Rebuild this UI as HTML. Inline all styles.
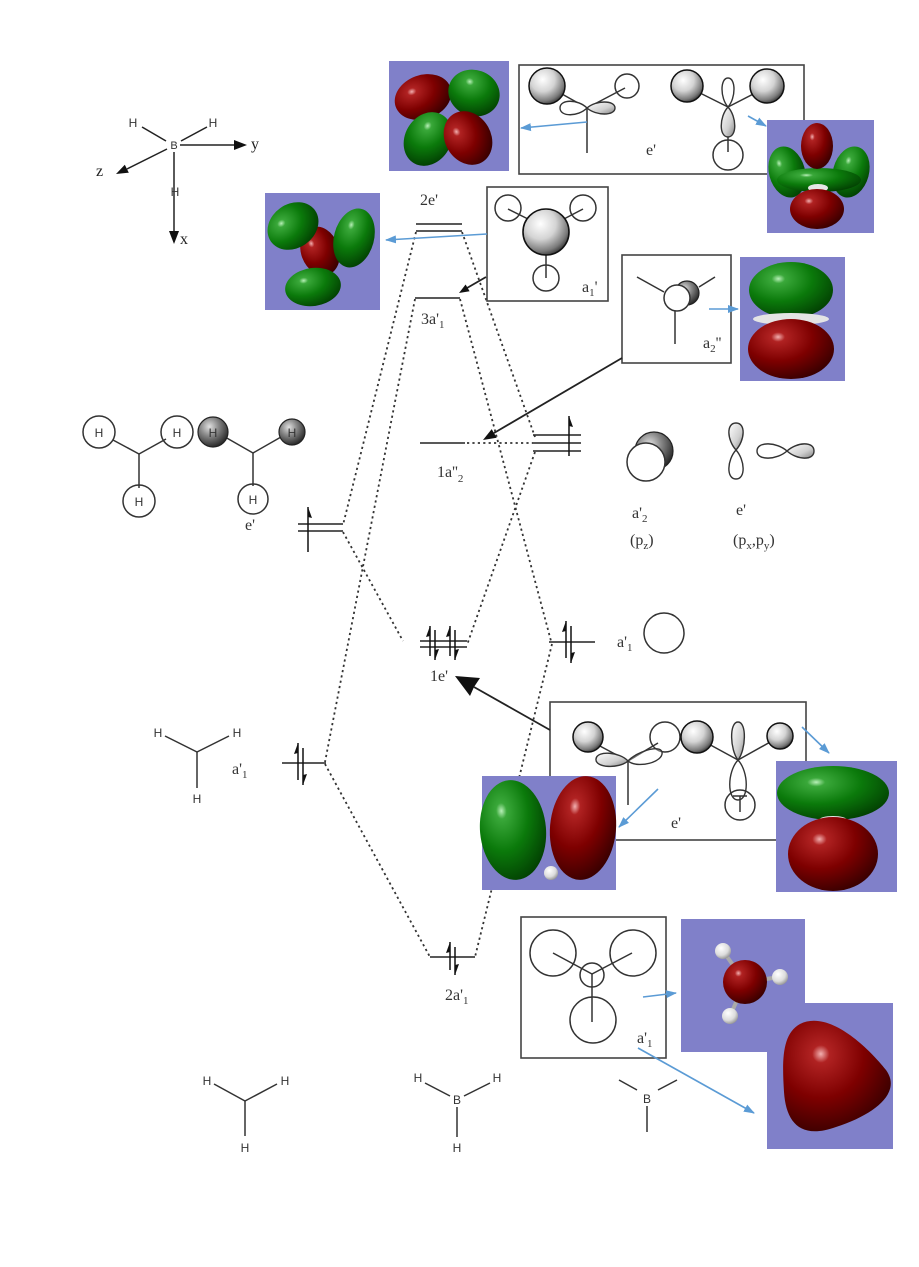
<!DOCTYPE html>
<html><head><meta charset="utf-8">
<style>html,body{margin:0;padding:0;background:#fff}svg{display:block}</style>
</head>
<body>
<svg width="919" height="1267" viewBox="0 0 919 1267" xmlns="http://www.w3.org/2000/svg">
<defs>
  <radialGradient id="gg" cx="0.35" cy="0.3" r="0.8">
    <stop offset="0" stop-color="#b8f0b8"/>
    <stop offset="0.1" stop-color="#3aa83a"/>
    <stop offset="0.5" stop-color="#0b7a0b"/>
    <stop offset="1" stop-color="#013801"/>
  </radialGradient>
  <radialGradient id="rg" cx="0.35" cy="0.3" r="0.8">
    <stop offset="0" stop-color="#f2b0b0"/>
    <stop offset="0.1" stop-color="#b02222"/>
    <stop offset="0.5" stop-color="#7e0000"/>
    <stop offset="1" stop-color="#2e0000"/>
  </radialGradient>
  <radialGradient id="gs" cx="0.38" cy="0.32" r="0.75">
    <stop offset="0" stop-color="#ffffff"/>
    <stop offset="0.45" stop-color="#d4d4d4"/>
    <stop offset="0.8" stop-color="#7a7a7a"/>
    <stop offset="1" stop-color="#222"/>
  </radialGradient>
  <radialGradient id="gd" cx="0.38" cy="0.32" r="0.75">
    <stop offset="0" stop-color="#e0e0e0"/>
    <stop offset="0.4" stop-color="#8a8a8a"/>
    <stop offset="1" stop-color="#1a1a1a"/>
  </radialGradient>
  <radialGradient id="gw" cx="0.38" cy="0.32" r="0.75">
    <stop offset="0" stop-color="#ffffff"/>
    <stop offset="0.6" stop-color="#dcdcdc"/>
    <stop offset="1" stop-color="#8a8a8a"/>
  </radialGradient>
  <linearGradient id="lob" x1="0" y1="0" x2="1" y2="1">
    <stop offset="0" stop-color="#ffffff"/>
    <stop offset="0.6" stop-color="#d0d0d0"/>
    <stop offset="1" stop-color="#808080"/>
  </linearGradient>
  <marker id="bh" markerWidth="11" markerHeight="10" refX="10" refY="5" orient="auto" markerUnits="userSpaceOnUse">
    <path d="M0,1 L11,5 L0,9 Z" fill="#5b9bd5"/>
  </marker>
</defs>

<!-- ============ Axes ============ -->
<g stroke="#222" stroke-width="1.5" fill="none">
  <line x1="180" y1="145" x2="236" y2="145"/>
  <line x1="167" y1="149" x2="127" y2="169"/>
  <line x1="174" y1="152" x2="174" y2="232"/>
  <line x1="142" y1="127" x2="166" y2="141"/>
  <line x1="181" y1="141" x2="207" y2="127"/>
</g>
<polygon points="247,145 234,140 234,150" fill="#111"/>
<polygon points="116,174 128.8,172.7 124.8,164.7" fill="#111"/>
<polygon points="174,244 169,231 179,231" fill="#111"/>
<g font-family="Liberation Sans, sans-serif" font-size="12" fill="#333" text-anchor="middle">
  <text x="133" y="127">H</text>
  <text x="213" y="127">H</text>
  <text x="174" y="149" font-size="11">B</text>
  <text x="175" y="196">H</text>
</g>
<g font-family="Liberation Serif, serif" font-size="16" fill="#222">
  <text x="251" y="149">y</text>
  <text x="96" y="176">z</text>
  <text x="180" y="244">x</text>
</g>

<!-- ============ Purple panels ============ -->
<g fill="#8080c9">
  <rect x="389" y="61" width="120" height="110"/>
  <rect x="265" y="193" width="115" height="117"/>
  <rect x="767" y="120" width="107" height="113"/>
  <rect x="740" y="257" width="105" height="124"/>
  <rect x="681" y="919" width="124" height="133"/>
  <rect x="767" y="1003" width="126" height="146"/>
</g>

<!-- panel 1 -->
<ellipse cx="423" cy="97" rx="29" ry="22" transform="rotate(-20 423 97)" fill="url(#rg)"/>
<ellipse cx="474" cy="93" rx="26" ry="23" transform="rotate(20 474 93)" fill="url(#gg)"/>
<ellipse cx="444" cy="131" rx="4" ry="12" fill="#e8e8e8"/>
<ellipse cx="428" cy="139" rx="23" ry="28" transform="rotate(30 428 139)" fill="url(#gg)"/>
<ellipse cx="468" cy="138" rx="23" ry="28" transform="rotate(-30 468 138)" fill="url(#rg)"/>

<!-- panel 2 -->
<ellipse cx="320" cy="251" rx="19" ry="25" transform="rotate(-20 320 251)" fill="url(#rg)"/>
<ellipse cx="293" cy="226" rx="27" ry="22" transform="rotate(-35 293 226)" fill="url(#gg)"/>
<ellipse cx="354" cy="238" rx="20" ry="30" transform="rotate(15 354 238)" fill="url(#gg)"/>
<ellipse cx="313" cy="287" rx="28" ry="19" transform="rotate(-8 313 287)" fill="url(#gg)"/>

<!-- panel 3 -->
<ellipse cx="787" cy="172" rx="18" ry="26" transform="rotate(-15 787 172)" fill="url(#gg)"/>
<ellipse cx="851" cy="172" rx="18" ry="26" transform="rotate(15 851 172)" fill="url(#gg)"/>
<ellipse cx="819" cy="180" rx="42" ry="12" fill="url(#gg)"/>
<ellipse cx="818" cy="188" rx="10" ry="4" fill="#e6e6e6"/>
<ellipse cx="817" cy="146" rx="16" ry="23" fill="url(#rg)"/>
<ellipse cx="817" cy="209" rx="27" ry="20" fill="url(#rg)"/>

<!-- panel 4 -->
<ellipse cx="791" cy="290" rx="42" ry="28" fill="url(#gg)"/>
<ellipse cx="791" cy="319" rx="38" ry="6" fill="#e4e4e4"/>
<ellipse cx="791" cy="349" rx="43" ry="30" fill="url(#rg)"/>

<!-- panel 7 -->
<g stroke="#aaa" stroke-width="4">
  <line x1="745" y1="982" x2="723" y2="951"/>
  <line x1="745" y1="982" x2="780" y2="977"/>
  <line x1="745" y1="982" x2="730" y2="1016"/>
</g>
<circle cx="723" cy="951" r="8" fill="url(#gw)"/>
<circle cx="780" cy="977" r="8" fill="url(#gw)"/>
<circle cx="730" cy="1016" r="8" fill="url(#gw)"/>
<circle cx="745" cy="982" r="22" fill="url(#rg)"/>

<!-- panel 8 -->
<path d="M800,1024 C828,1010 866,1045 886,1070 C902,1092 876,1114 836,1127 C800,1140 786,1122 784,1092 C782,1060 782,1034 800,1024 Z" fill="url(#rg)"/>

<!-- ============ Energy levels ============ -->
<g stroke="#222" stroke-width="1.6">
  <line x1="416" y1="224" x2="462" y2="224"/>
  <line x1="416" y1="231" x2="462" y2="231"/>
  <line x1="415" y1="298" x2="460" y2="298"/>
  <line x1="420" y1="443" x2="465" y2="443"/>
  <line x1="533" y1="435" x2="581" y2="435"/>
  <line x1="533" y1="443" x2="581" y2="443"/>
  <line x1="533" y1="451" x2="581" y2="451"/>
  <line x1="298" y1="524" x2="343" y2="524"/>
  <line x1="298" y1="531" x2="343" y2="531"/>
  <line x1="420" y1="641" x2="467" y2="641"/>
  <line x1="420" y1="647" x2="467" y2="647"/>
  <line x1="549" y1="642" x2="595" y2="642"/>
  <line x1="282" y1="763" x2="326" y2="763"/>
  <line x1="430" y1="957" x2="475" y2="957"/>
</g>

<!-- electron arrows -->
<g stroke="#111" stroke-width="1.5">
  <line x1="430" y1="626" x2="430" y2="656"/><line x1="435" y1="630" x2="435" y2="660"/>
  <line x1="450" y1="626" x2="450" y2="656"/><line x1="455" y1="630" x2="455" y2="660"/>
  <line x1="566" y1="621" x2="566" y2="658"/><line x1="571" y1="626" x2="571" y2="663"/>
  <line x1="298" y1="743" x2="298" y2="780"/><line x1="303" y1="748" x2="303" y2="785"/>
  <line x1="450" y1="942" x2="450" y2="970"/><line x1="455" y1="947" x2="455" y2="975"/>
  <line x1="308" y1="507" x2="308" y2="552"/>
  <line x1="569" y1="416" x2="569" y2="456"/>
</g>
<g fill="#111">
  <polygon points="430,626 426,637 430,636"/><polygon points="435,660 439,649 435,650"/>
  <polygon points="450,626 446,637 450,636"/><polygon points="455,660 459,649 455,650"/>
  <polygon points="566,621 562,632 566,631"/><polygon points="571,663 575,652 571,653"/>
  <polygon points="298,743 294,754 298,753"/><polygon points="303,785 307,774 303,775"/>
  <polygon points="450,942 446,953 450,952"/><polygon points="455,975 459,964 455,965"/>
  <polygon points="308,507 312,518 308,517"/>
  <polygon points="569,416 573,427 569,426"/>
</g>

<!-- dotted correlation lines -->
<g stroke="#333" stroke-width="1.8" stroke-dasharray="2.2,3.2" fill="none">
  <line x1="416" y1="232" x2="343" y2="525"/>
  <line x1="415" y1="299" x2="325" y2="762"/>
  <line x1="343" y1="532" x2="403" y2="641"/>
  <line x1="325" y1="764" x2="430" y2="957"/>
  <line x1="462" y1="232" x2="535" y2="437"/>
  <line x1="460" y1="299" x2="551" y2="641"/>
  <line x1="535" y1="452" x2="467" y2="645"/>
  <line x1="552" y1="644" x2="475" y2="957"/>
  <line x1="467" y1="443" x2="533" y2="443"/>
</g>

<!-- level labels -->
<g font-family="Liberation Serif, serif" font-size="16" fill="#333">
  <text x="420" y="205">2e'</text>
  <text x="421" y="324">3a'<tspan font-size="11" dy="4">1</tspan></text>
  <text x="437" y="477">1a''<tspan font-size="11" dy="5">2</tspan></text>
  <text x="430" y="681">1e'</text>
  <text x="445" y="1000">2a'<tspan font-size="11" dy="4">1</tspan></text>
  <text x="245" y="530">e'</text>
  <text x="232" y="774">a'<tspan font-size="11" dy="4">1</tspan></text>
  <text x="617" y="647">a'<tspan font-size="11" dy="4">1</tspan></text>
  <text x="632" y="518">a'<tspan font-size="11" dy="4">2</tspan></text>
  <text x="630" y="545">(p<tspan font-size="11" dy="4">z</tspan><tspan dy="-4">)</tspan></text>
  <text x="736" y="515">e'</text>
  <text x="733" y="545">(p<tspan font-size="11" dy="4">x</tspan><tspan dy="-4">,p</tspan><tspan font-size="11" dy="4">y</tspan><tspan dy="-4">)</tspan></text>
</g>

<!-- ============ H3 fragments (left) ============ -->
<g stroke="#333" stroke-width="1.5" fill="none">
  <line x1="139" y1="454" x2="113" y2="440"/>
  <line x1="139" y1="454" x2="166" y2="439"/>
  <line x1="139" y1="454" x2="139" y2="488"/>
  <circle cx="99" cy="432" r="16"/>
  <circle cx="177" cy="432" r="16"/>
  <circle cx="139" cy="501" r="16"/>
  <line x1="253" y1="453" x2="225" y2="437"/>
  <line x1="253" y1="453" x2="281" y2="437"/>
  <line x1="253" y1="453" x2="253" y2="486"/>
  <circle cx="253" cy="499" r="15"/>
</g>
<circle cx="213" cy="432" r="15" fill="url(#gd)" stroke="#222" stroke-width="1.2"/>
<circle cx="292" cy="432" r="13" fill="url(#gd)" stroke="#222" stroke-width="1.2"/>
<g font-family="Liberation Sans, sans-serif" font-size="12" fill="#333" text-anchor="middle">
  <text x="99" y="437">H</text><text x="177" y="437">H</text><text x="139" y="506">H</text>
  <text x="213" y="437">H</text><text x="292" y="437">H</text><text x="253" y="504">H</text>
</g>

<!-- ============ B p orbitals (right) ============ -->
<circle cx="654" cy="451" r="19" fill="url(#gd)" stroke="#222" stroke-width="1.2"/>
<circle cx="646" cy="462" r="19" fill="#fff" stroke="#333" stroke-width="1.5"/>
<path d="M736,450 C727,440 726,423 736,423 C746,423 745,440 736,450 Z" fill="url(#lob)" stroke="#333" stroke-width="1.4"/>
<path d="M736,450 C727,460 726,479 736,479 C746,479 745,460 736,450 Z" fill="#fff" stroke="#333" stroke-width="1.4"/>
<path d="M787,451 C777,442 757,441 757,451 C757,461 777,460 787,451 Z" fill="#fff" stroke="#333" stroke-width="1.4"/>
<path d="M787,451 C797,442 814,441 814,451 C814,461 797,460 787,451 Z" fill="url(#lob)" stroke="#333" stroke-width="1.4"/>
<circle cx="664" cy="633" r="20" fill="none" stroke="#333" stroke-width="1.5"/>

<!-- ============ Left CH3 (a'1) ============ -->
<g stroke="#333" stroke-width="1.5">
  <line x1="165" y1="736" x2="197" y2="752"/>
  <line x1="197" y1="752" x2="229" y2="736"/>
  <line x1="197" y1="752" x2="197" y2="788"/>
</g>
<g font-family="Liberation Sans, sans-serif" font-size="12" fill="#333" text-anchor="middle">
  <text x="158" y="737">H</text><text x="237" y="737">H</text><text x="197" y="803">H</text>
</g>

<!-- ============ Box A: top e' ============ -->
<rect x="519" y="65" width="285" height="109" fill="none" stroke="#444" stroke-width="1.6"/>
<g stroke="#333" stroke-width="1.5" fill="none">
  <line x1="553" y1="89" x2="587" y2="108"/>
  <line x1="587" y1="108" x2="625" y2="88"/>
  <line x1="587" y1="108" x2="587" y2="153"/>
  <line x1="692" y1="89" x2="728" y2="107"/>
  <line x1="728" y1="107" x2="763" y2="89"/>
  <line x1="728" y1="137" x2="728" y2="152"/>
  <circle cx="627" cy="86" r="12"/>
  <circle cx="728" cy="155" r="15"/>
</g>
<circle cx="547" cy="86" r="18" fill="url(#gs)" stroke="#111" stroke-width="1.5"/>
<circle cx="687" cy="86" r="16" fill="url(#gs)" stroke="#111" stroke-width="1.5"/>
<circle cx="767" cy="86" r="17" fill="url(#gs)" stroke="#111" stroke-width="1.5"/>
<path d="M587,108 C578,99 560,99 560,108 C560,117 578,117 587,108 Z" fill="#fff" stroke="#333" stroke-width="1.4"/>
<path d="M587,108 C596,100 615,100 615,108 C615,116 596,116 587,108 Z" fill="url(#lob)" stroke="#333" stroke-width="1.4"/>
<path d="M728,107 C720,98 720,78 728,78 C736,78 736,98 728,107 Z" fill="#fff" stroke="#333" stroke-width="1.4"/>
<path d="M728,107 C719,117 719,137 728,137 C737,137 737,117 728,107 Z" fill="url(#lob)" stroke="#333" stroke-width="1.4"/>
<text x="646" y="155" font-family="Liberation Serif, serif" font-size="16" fill="#333">e'</text>
<!-- re-draw panel 3 over box edge -->
<rect x="767" y="120" width="107" height="113" fill="#8080c9"/>
<ellipse cx="787" cy="172" rx="18" ry="26" transform="rotate(-15 787 172)" fill="url(#gg)"/>
<ellipse cx="851" cy="172" rx="18" ry="26" transform="rotate(15 851 172)" fill="url(#gg)"/>
<ellipse cx="819" cy="180" rx="42" ry="12" fill="url(#gg)"/>
<ellipse cx="818" cy="188" rx="10" ry="4" fill="#e6e6e6"/>
<ellipse cx="817" cy="146" rx="16" ry="23" fill="url(#rg)"/>
<ellipse cx="817" cy="209" rx="27" ry="20" fill="url(#rg)"/>

<!-- ============ Box B: a1' ============ -->
<rect x="487" y="187" width="121" height="114" fill="none" stroke="#444" stroke-width="1.6"/>
<g stroke="#333" stroke-width="1.5" fill="none">
  <line x1="508" y1="209" x2="530" y2="220"/>
  <line x1="583" y1="209" x2="562" y2="220"/>
  <line x1="546" y1="254" x2="546" y2="278"/>
  <circle cx="508" cy="208" r="13"/>
  <circle cx="583" cy="208" r="13"/>
  <circle cx="546" cy="278" r="13"/>
</g>
<circle cx="546" cy="232" r="23" fill="url(#gs)" stroke="#111" stroke-width="1.6"/>
<text x="582" y="292" font-family="Liberation Serif, serif" font-size="16" fill="#333">a<tspan font-size="11" dy="4">1</tspan><tspan dy="-4">'</tspan></text>

<!-- ============ Box C: a2'' ============ -->
<rect x="622" y="255" width="109" height="108" fill="none" stroke="#444" stroke-width="1.6"/>
<g stroke="#333" stroke-width="1.5">
  <line x1="637" y1="277" x2="664" y2="292"/>
  <line x1="715" y1="277" x2="699" y2="287"/>
  <line x1="675" y1="311" x2="675" y2="344"/>
</g>
<circle cx="687" cy="293" r="12" fill="url(#gd)" stroke="#222" stroke-width="1.2"/>
<circle cx="677" cy="298" r="13" fill="#fff" stroke="#333" stroke-width="1.5"/>
<text x="703" y="348" font-family="Liberation Serif, serif" font-size="16" fill="#333">a<tspan font-size="11" dy="4">2</tspan><tspan dy="-4">''</tspan></text>

<!-- ============ Box D: bottom e' ============ -->
<rect x="550" y="702" width="256" height="138" fill="none" stroke="#444" stroke-width="1.6"/>
<g stroke="#333" stroke-width="1.5" fill="none">
  <line x1="598" y1="745" x2="628" y2="761"/>
  <line x1="628" y1="761" x2="658" y2="743"/>
  <line x1="628" y1="761" x2="628" y2="805"/>
  <line x1="705" y1="742" x2="738" y2="760"/>
  <line x1="738" y1="760" x2="772" y2="741"/>
  <circle cx="665" cy="737" r="15"/>
  <circle cx="740" cy="805" r="15"/>
  <line x1="733" y1="796" x2="747" y2="796"/>
  <line x1="740" y1="796" x2="740" y2="812"/>
</g>
<circle cx="588" cy="737" r="15" fill="url(#gs)" stroke="#111" stroke-width="1.5"/>
<circle cx="697" cy="737" r="16" fill="url(#gs)" stroke="#111" stroke-width="1.5"/>
<circle cx="780" cy="736" r="13" fill="url(#gs)" stroke="#111" stroke-width="1.5"/>
<path d="M628,761 C620,752 597,750 596,759 C595,768 619,769 628,761 Z" fill="url(#lob)" stroke="#333" stroke-width="1.4"/>
<path d="M628,761 C636,752 660,744 662,752 C664,762 638,769 628,761 Z" fill="#fff" fill-opacity="0.3" stroke="#333" stroke-width="1.4"/>
<path d="M738,760 C730,750 729,722 738,722 C747,722 746,750 738,760 Z" fill="url(#lob)" stroke="#333" stroke-width="1.4"/>
<path d="M738,760 C727,772 727,800 738,800 C749,800 749,772 738,760 Z" fill="none" stroke="#333" stroke-width="1.4"/>
<text x="671" y="828" font-family="Liberation Serif, serif" font-size="16" fill="#333">e'</text>

<!-- panel 5 -->
<rect x="482" y="776" width="134" height="114" fill="#8080c9"/>
<ellipse cx="513" cy="830" rx="33" ry="50" transform="rotate(-5 513 830)" fill="url(#gg)"/>
<ellipse cx="583" cy="828" rx="33" ry="52" transform="rotate(5 583 828)" fill="url(#rg)"/>
<circle cx="551" cy="873" r="7" fill="url(#gw)"/>
<!-- panel 6 -->
<rect x="776" y="761" width="121" height="131" fill="#8080c9"/>
<ellipse cx="833" cy="793" rx="56" ry="27" fill="url(#gg)"/>
<ellipse cx="833" cy="820" rx="14" ry="4" fill="#e6e6e6"/>
<ellipse cx="833" cy="854" rx="45" ry="37" fill="url(#rg)"/>

<!-- ============ Box E: bottom a'1 ============ -->
<rect x="521" y="917" width="145" height="141" fill="none" stroke="#444" stroke-width="1.6"/>
<g stroke="#333" stroke-width="1.5" fill="none">
  <circle cx="553" cy="953" r="23"/>
  <circle cx="633" cy="953" r="23"/>
  <circle cx="593" cy="1020" r="23"/>
  <circle cx="592" cy="975" r="12"/>
  <line x1="553" y1="953" x2="592" y2="974"/>
  <line x1="632" y1="953" x2="592" y2="974"/>
  <line x1="592" y1="974" x2="592" y2="1022"/>
</g>
<text x="637" y="1043" font-family="Liberation Serif, serif" font-size="16" fill="#333">a'<tspan font-size="11" dy="4">1</tspan></text>

<!-- ============ Bottom structures ============ -->
<g stroke="#333" stroke-width="1.5">
  <line x1="214" y1="1084" x2="245" y2="1101"/>
  <line x1="245" y1="1101" x2="277" y2="1084"/>
  <line x1="245" y1="1101" x2="245" y2="1136"/>
  <line x1="425" y1="1083" x2="450" y2="1096"/>
  <line x1="464" y1="1096" x2="490" y2="1083"/>
  <line x1="457" y1="1107" x2="457" y2="1137"/>
  <line x1="619" y1="1080" x2="637" y2="1090"/>
  <line x1="658" y1="1090" x2="677" y2="1080"/>
  <line x1="647" y1="1106" x2="647" y2="1132"/>
</g>
<g font-family="Liberation Sans, sans-serif" font-size="12" fill="#333" text-anchor="middle">
  <text x="207" y="1085">H</text><text x="285" y="1085">H</text><text x="245" y="1152">H</text>
  <text x="418" y="1082">H</text><text x="497" y="1082">H</text><text x="457" y="1104">B</text><text x="457" y="1152">H</text>
  <text x="647" y="1103">B</text>
</g>

<!-- ============ Blue arrows ============ -->
<g stroke="#5b9bd5" stroke-width="1.6" fill="none" marker-end="url(#bh)">
  <line x1="587" y1="122" x2="521" y2="128"/>
  <line x1="748" y1="116" x2="766" y2="126"/>
  <line x1="487" y1="234" x2="386" y2="240"/>
  <line x1="709" y1="309" x2="738" y2="309"/>
  <line x1="658" y1="789" x2="619" y2="827"/>
  <line x1="802" y1="727" x2="829" y2="753"/>
  <line x1="643" y1="997" x2="676" y2="993"/>
  <line x1="638" y1="1048" x2="754" y2="1113"/>
</g>

<!-- ============ Black arrows ============ -->
<g stroke="#222" stroke-width="1.8">
  <line x1="622" y1="358" x2="494" y2="433"/>
  <line x1="550" y1="730" x2="474" y2="687"/>
  <line x1="486" y1="277" x2="467" y2="288"/>
</g>
<polygon points="483,440 491.7,429.1 496.7,437.7" fill="#111"/>
<polygon points="455,676 480,678 474,687 470,696" fill="#111"/>
<polygon points="459,293 465.6,284.5 469.6,291.3" fill="#111"/>

</svg>
</body></html>
